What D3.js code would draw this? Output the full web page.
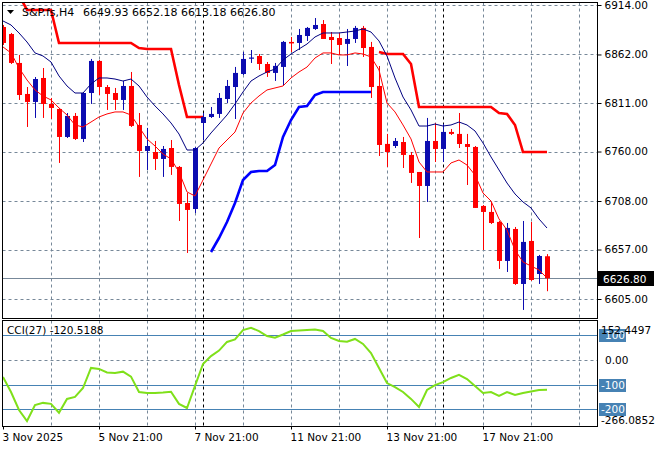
<!DOCTYPE html>
<html><head><meta charset="utf-8">
<script src="https://cdn.jsdelivr.net/npm/d3@7"></script>
<style>
body{margin:0;background:#fff}
svg{display:block}
text{font-family:"DejaVu Sans",sans-serif;fill:#000}
</style>
</head><body><svg id="c" width="660" height="450"></svg>
<script>
// ---------- data ----------
const symbol = "S&P.fs,H4";
const timeLabels = ["3 Nov 2025","5 Nov 21:00","7 Nov 21:00","11 Nov 21:00","13 Nov 21:00","17 Nov 21:00"];
const timeLabelBars = [0,12,24,36,48,60];
const weekStartBars = [25,55];
const priceTicks = [6605,6657,6708,6760,6811,6862,6914];
const cciLevels = [100,-100,-200];

const open = [6890.9,6883.5,6853.1,6820.5,6812.1,6837.3,6810.0,6804.7,6775.3,6797.4,
6773.2,6821.5,6855.2,6827.8,6821.5,6814.2,6828.9,6787.9,6760.6,6759.5,
6752.2,6763.7,6743.8,6705.9,6699.6,6790.0,6796.3,6799.5,6815.2,6827.8,
6841.5,6857.8,6860.4,6852.0,6842.6,6848.9,6875.2,6874.1,6881.4,6888.8,
6894.0,6880.4,6879.3,6873.1,6878.3,6889.9,6869.9,6828.9,6768.0,6765.8,
6770.0,6756.4,6738.5,6723.8,6771.1,6762.7,6780.6,6778.5,6767.9,6764.8,
6702.8,6696.5,6686.0,6645.0,6678.6,6620.8,6666.0,6631.3,6649.93];
const high = [6893.0,6884.6,6861.5,6827.8,6838.3,6847.8,6816.3,6805.8,6800.5,6800.5,
6822.6,6857.3,6856.2,6829.9,6826.8,6834.2,6843.6,6800.5,6784.8,6771.1,
6765.8,6772.1,6744.8,6716.4,6764.8,6800.5,6806.8,6821.5,6835.2,6848.9,
6864.6,6866.7,6862.5,6854.1,6853.1,6876.2,6880.4,6888.8,6890.9,6900.3,
6898.2,6885.6,6884.6,6888.8,6892.0,6892.0,6875.2,6849.9,6778.5,6774.2,
6775.3,6759.5,6738.5,6795.3,6790.0,6789.0,6783.7,6800.5,6778.5,6765.8,
6703.8,6707.0,6687.0,6684.9,6680.7,6687.0,6686.0,6651.3,6652.18];
const low = [6872.0,6852.0,6814.2,6785.8,6795.3,6795.3,6794.2,6748.0,6774.2,6772.1,
6770.0,6810.0,6819.4,6803.7,6803.7,6803.7,6785.8,6733.3,6740.6,6740.6,
6733.3,6735.4,6687.0,6653.4,6695.4,6772.1,6795.3,6795.3,6811.0,6794.2,
6840.4,6853.1,6845.7,6838.4,6834.2,6828.9,6864.6,6866.7,6876.2,6887.8,
6878.3,6852.0,6861.5,6849.9,6874.1,6859.4,6816.3,6755.3,6743.8,6763.7,
6742.7,6727.0,6669.1,6707.0,6749.0,6749.0,6777.4,6763.7,6724.8,6700.7,
6656.5,6683.8,6636.6,6633.4,6619.8,6593.5,6624.0,6620.8,6613.18];
const close = [6874.1,6853.1,6819.4,6812.1,6836.2,6810.0,6805.8,6775.3,6797.4,6773.2,
6821.5,6855.2,6827.8,6820.5,6814.2,6828.9,6786.9,6760.6,6765.8,6752.2,
6762.7,6743.8,6704.9,6698.6,6763.7,6796.3,6799.5,6816.3,6828.9,6842.6,
6857.3,6858.8,6852.0,6842.6,6850.0,6875.2,6873.6,6882.5,6889.9,6893.0,
6878.3,6877.2,6872.0,6878.3,6889.9,6868.8,6827.8,6766.9,6759.5,6771.1,
6756.4,6737.5,6723.8,6771.1,6762.7,6780.6,6778.5,6767.9,6764.8,6700.7,
6696.5,6684.9,6645.0,6679.7,6620.8,6665.0,6625.0,6650.2,6626.80];
const maSlow = [6897.2,6893.0,6884.6,6875.1,6863.6,6860.4,6854.1,6839.4,6828.9,6821.5,
6821.5,6831.0,6837.3,6837.3,6836.2,6834.1,6836.2,6828.9,6817.3,6807.9,
6799.5,6790.0,6778.4,6761.6,6761.6,6769.0,6779.5,6788.9,6798.4,6810.0,
6822.6,6834.1,6839.4,6843.6,6846.7,6856.2,6862.5,6867.8,6873.0,6880.4,
6884.6,6884.6,6884.6,6885.6,6886.7,6888.8,6885.6,6876.2,6860.4,6837.3,
6817.3,6803.7,6786.8,6786.8,6788.9,6786.8,6787.9,6791.0,6787.9,6781.6,
6769.0,6754.3,6740.6,6726.9,6715.4,6707.0,6700.7,6689.1,6679.6];
const maFast = [6869.9,6863.6,6847.8,6835.2,6824.7,6818.4,6814.2,6805.8,6798.4,6787.9,
6785.8,6791.0,6796.3,6799.5,6801.6,6801.6,6798.4,6785.8,6773.2,6765.8,
6757.4,6752.2,6738.5,6717.5,6713.3,6730.1,6746.9,6763.7,6772.1,6780.5,
6800.5,6811.0,6818.4,6824.7,6826.8,6828.9,6837.3,6843.6,6848.8,6858.3,
6863.6,6863.6,6861.5,6861.5,6863.6,6862.5,6859.4,6845.7,6811.0,6801.6,
6787.9,6773.2,6749.0,6738.5,6738.5,6738.5,6748.0,6751.1,6745.8,6735.3,
6716.4,6708.0,6689.1,6677.5,6656.5,6643.9,6639.7,6635.5,6627.1];
const stopUpper = [6924.5,6924.5,6924.5,6908.8,6908.8,6908.8,6908.8,6874.1,6874.1,6874.1,
6874.1,6874.1,6874.1,6874.1,6874.1,6874.1,6874.1,6868.8,6867.8,6867.8,
6867.8,6867.8,6829.9,6796.3,6796.3,6796.3,null,null,null,null,
null,null,null,null,null,null,null,null,null,null,
null,null,null,null,null,null,null,6864.6,6862.5,6862.5,
6862.5,6852.0,6806.8,6806.8,6806.8,6806.8,6806.8,6806.8,6806.8,6806.8,
6806.8,6806.8,6800.5,6799.5,6787.9,6759.5,6759.5,6759.5,6759.5];
const stopLower = [null,null,null,null,null,null,null,null,null,null,
null,null,null,null,null,null,null,null,null,null,
null,null,null,null,null,null,6654.4,6669.1,6685.9,6705.9,
6730.1,6738.5,6739.5,6739.5,6745.8,6775.3,6793.1,6806.8,6807.9,6819.4,
6822.6,6822.6,6822.6,6822.6,6822.6,6822.6,6822.6,null,null,null,
null,null,null,null,null,null,null,null,null,null,
null,null,null,null,null,null,null,null,null];
const cci = [-69.5,-130,-202.7,-247,-182.5,-174,-178,-213.6,-158,-150,
-114,-33,-37,-51,-53,-48,-68,-130,-134,-134,
-132,-129,-178,-194.6,-105,-17,15,37,72,82,
120,129,116,96,89,102,116,118,120,122,
116,88,76,73,84,64,27,-33,-94,-110,
-130,-158,-190.5,-122,-102,-90,-73.5,-61,-77.6,-106,
-134,-130,-146,-130,-142,-134,-128,-122,-120.5188];

// ---------- layout ----------
const svg = d3.select("#c");
const L = 2.5, R = 597.5, mTop = 2.5, mBot = 318.5, cTop = 320.5, cBot = 426.5;
const x = d3.scaleLinear().domain([0, 74]).range([3, 595]);
const y = d3.scaleLinear().domain([6605, 6914]).range([299, 5]);
const yc = d3.scaleLinear().domain([-266.0852, 152.4497]).range([425.7, 322]);
const gridColor = "#778899";
const bull = "#0c0cb0", bear = "#ff0000";
const idx = d3.range(open.length);
const gridBars = d3.range(6, 75, 6);

const defs = svg.append("defs");
defs.append("clipPath").attr("id","cm").append("rect").attr("x",L).attr("y",mTop).attr("width",R-L).attr("height",mBot-mTop);
defs.append("clipPath").attr("id","cc").append("rect").attr("x",L).attr("y",cTop).attr("width",R-L).attr("height",cBot-cTop);

// ---------- main pane ----------
const gm = svg.append("g").attr("clip-path","url(#cm)");
gm.selectAll(".vg").data(gridBars).join("line")
  .attr("x1",d=>Math.round(x(d))+0.5).attr("x2",d=>Math.round(x(d))+0.5)
  .attr("y1",mTop).attr("y2",mBot).attr("stroke",gridColor).attr("stroke-dasharray","3,3");
gm.selectAll(".hg").data(priceTicks).join("line")
  .attr("x1",L).attr("x2",R).attr("y1",d=>Math.round(y(d))+0.5).attr("y2",d=>Math.round(y(d))+0.5)
  .attr("stroke",gridColor).attr("stroke-dasharray","3,3");
gm.selectAll(".ws").data(weekStartBars).join("line")
  .attr("x1",d=>Math.round(x(d))+0.5).attr("x2",d=>Math.round(x(d))+0.5)
  .attr("y1",mTop).attr("y2",mBot).attr("stroke","#000").attr("stroke-dasharray","3,3");
// current price line
const last = close[close.length-1];
gm.append("line").attr("x1",L).attr("x2",R)
  .attr("y1",Math.round(y(last))+0.5).attr("y2",Math.round(y(last))+0.5).attr("stroke",gridColor);

// step lines
const stepLine = arr => d3.line().defined(i=>arr[i]!==null).x(i=>x(i)).y(i=>y(arr[i]))(idx);
gm.append("path").attr("d",stepLine(stopUpper)).attr("fill","none").attr("stroke","#ff0000").attr("stroke-width",2.6);
gm.append("path").attr("d",stepLine(stopLower)).attr("fill","none").attr("stroke","#0000ff").attr("stroke-width",2.6);

// candles
const cg = gm.append("g");
idx.forEach(i=>{
  const cx = Math.round(x(i));
  const up = close[i] >= open[i];
  const col = up ? bull : bear;
  cg.append("line").attr("x1",cx+0.5).attr("x2",cx+0.5)
    .attr("y1",y(high[i])).attr("y2",y(low[i])).attr("stroke",col).attr("stroke-width",1);
  const t = y(Math.max(open[i],close[i])), b = y(Math.min(open[i],close[i]));
  cg.append("rect").attr("x",cx-2).attr("width",5)
    .attr("y",t).attr("height",Math.max(1.2,b-t)).attr("fill",col);
});

// moving averages
const maLine = arr => d3.line().x(i=>x(i)).y(i=>y(arr[i]))(idx);
gm.append("path").attr("d",maLine(maFast)).attr("fill","none").attr("stroke","#ff0000").attr("stroke-width",1);
gm.append("path").attr("d",maLine(maSlow)).attr("fill","none").attr("stroke","#000080").attr("stroke-width",1);

// frame
svg.append("rect").attr("x",L).attr("y",mTop).attr("width",R-L).attr("height",mBot-mTop)
  .attr("fill","none").attr("stroke","#000");

// title
svg.append("path").attr("d","M7,10 L14,10 L10.5,14 Z").attr("fill","#000");
const f2 = d3.format(".2f");
svg.append("text").attr("x",22).attr("y",16).attr("font-size",11).text(symbol);
svg.append("text").attr("x",83).attr("y",16).attr("font-size",11)
  .text([open, high, low, close].map(a=>f2(a[a.length-1])).join(" "));

// price axis
const pa = svg.append("g").attr("transform",`translate(${R},0)`)
  .call(d3.axisRight(y).tickValues(priceTicks).tickSize(4).tickPadding(3).tickFormat(f2));
pa.select(".domain").remove();
pa.selectAll("text").attr("font-family","DejaVu Sans").attr("font-size",10.5).attr("fill","#000");
pa.selectAll("line").attr("stroke","#000");
// current price tag
svg.append("rect").attr("x",598).attr("y",Math.round(y(last))-7).attr("width",56).attr("height",15).attr("fill","#000");
svg.append("text").attr("x",603).attr("y",Math.round(y(last))+4.5).attr("font-size",10.5)
  .style("fill","#fff").text(f2(last));

// ---------- CCI pane ----------
const gc = svg.append("g").attr("clip-path","url(#cc)");
gc.selectAll(".vg").data(gridBars).join("line")
  .attr("x1",d=>Math.round(x(d))+0.5).attr("x2",d=>Math.round(x(d))+0.5)
  .attr("y1",cTop).attr("y2",cBot).attr("stroke",gridColor).attr("stroke-dasharray","3,3");
gc.append("line").attr("x1",L).attr("x2",R).attr("y1",Math.round(yc(0))+0.5).attr("y2",Math.round(yc(0))+0.5)
  .attr("stroke",gridColor).attr("stroke-dasharray","3,3");
gc.selectAll(".ws").data(weekStartBars).join("line")
  .attr("x1",d=>Math.round(x(d))+0.5).attr("x2",d=>Math.round(x(d))+0.5)
  .attr("y1",cTop).attr("y2",cBot).attr("stroke","#000").attr("stroke-dasharray","3,3");
gc.selectAll(".lv").data(cciLevels).join("line")
  .attr("x1",L).attr("x2",R).attr("y1",d=>Math.round(yc(d))+0.5).attr("y2",d=>Math.round(yc(d))+0.5)
  .attr("stroke","#4682b4");
gc.append("path").attr("d",d3.line().x(i=>x(i)).y(i=>yc(cci[i]))(idx))
  .attr("fill","none").attr("stroke","#7fe01a").attr("stroke-width",2);
svg.append("rect").attr("x",L).attr("y",cTop).attr("width",R-L).attr("height",cBot-cTop)
  .attr("fill","none").attr("stroke","#000");
svg.append("text").attr("x",7).attr("y",334).attr("font-size",10.5)
  .text("CCI(27) " + cci[cci.length-1].toFixed(4));

// level tags
cciLevels.forEach(v=>{
  const yy = Math.round(yc(v));
  svg.append("rect").attr("x",599).attr("y",yy-6).attr("width",27).attr("height",13).attr("fill","#4682b4");
  svg.append("text").attr("x",v>0?605:601).attr("y",yy+4).attr("font-size",10.5).style("fill","#fff").text(String(v));
});
svg.append("text").attr("x",605).attr("y",Math.round(yc(0))+4).attr("font-size",10.5).text("0.00");
svg.append("text").attr("x",601).attr("y",334).attr("font-size",10.5).text(yc.domain()[1].toFixed(4));
svg.append("text").attr("x",601).attr("y",424).attr("font-size",10.5).text(yc.domain()[0].toFixed(4));

// time axis
const ta = svg.append("g").attr("transform",`translate(0,${cBot})`)
  .call(d3.axisBottom(x).tickValues(timeLabelBars).tickSize(3).tickPadding(4)
    .tickFormat((d,k)=>timeLabels[k]));
ta.select(".domain").remove();
ta.selectAll("line").attr("stroke","#000");
ta.selectAll("text").attr("text-anchor","start").attr("dx",-1)
  .attr("font-family","DejaVu Sans").attr("font-size",10.5).attr("fill","#000");
</script>
</body></html>
